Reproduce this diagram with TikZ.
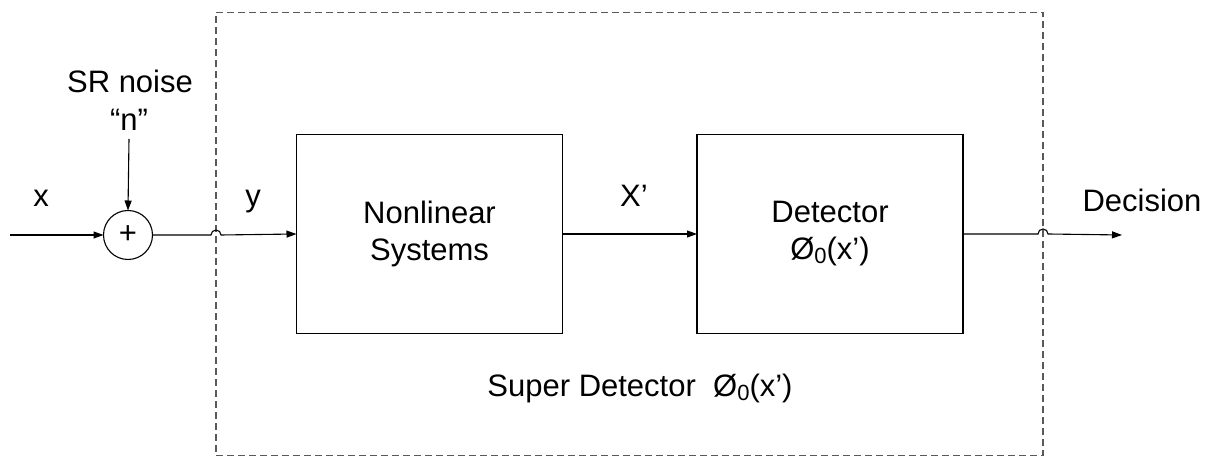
\documentclass[tikz,border=0pt]{standalone}
\usepackage{fontspec}
\setmainfont{Liberation Sans}
\usetikzlibrary{arrows.meta}
% lowered small subscript digit
\newcommand\subz[1]{\raisebox{-3.5pt}{\fontsize{22}{22}\selectfont #1}}
\begin{document}
\begin{tikzpicture}[x=1pt,y=1pt,
  every node/.style={font=\fontsize{31}{37}\selectfont, inner sep=0pt, outer sep=0pt},
  wire/.style={line width=1.1pt},
  sig/.style={wire, -{Triangle[length=10pt,width=7pt]}},
  block/.style={draw, line width=1.1pt, minimum width=266pt, minimum height=199pt, align=center},
  frame/.style={draw=black!65, line width=1.1pt, dash pattern=on 7pt off 4pt},
  adder/.style={draw, circle, line width=1.1pt, minimum size=49pt},
  lbl/.style={anchor=base}]
\useasboundingbox (0,0) rectangle (1221,457);

% dashed enclosure of the super detector
\node[frame, minimum width=827pt, minimum height=443pt] (super) at (629.5,223) {};
\node[lbl] (superlbl) at (640,60) {Super Detector\ \ Ø\subz{0}(x’)};

% processing blocks
\node[block] (nl) at (429.5,223) {Nonlinear\\Systems};
\node[block] (det) at (830,223) {Detector\\Ø\subz{0}(x’)};

% summing junction and inputs
\node[adder] (sum) at (128,222) {+};
\coordinate (in) at (10,222);
\coordinate (out) at (1122,222);
\node[lbl] (srn) at (130,364) {SR noise};
\node[lbl] (n) at (129,326) {“n”};

% signal labels
\node[lbl] (xl) at (41,250) {x};
\node[lbl] (yl) at (253,250) {y};
\node[lbl] (xp) at (634,250) {X’};
\node[lbl] (dec) at (1142,245) {Decision};

% crossing points with the dashed frame
\coordinate (h1) at (sum.east -| super.west);
\coordinate (h2) at (det.east -| super.east);

% connectors
\draw[sig] (in) -- (sum.west);
\draw[sig] ([yshift=-8pt]n.south) -- (sum.north);
\draw[sig] (sum.east) -- ([xshift=-5pt]h1) arc[start angle=180, end angle=0, radius=5pt] -- (nl.west);
\draw[sig] (nl.east) -- (nl.east -| det.west);
\draw[sig] (det.east) -- ([xshift=-5pt]h2) arc[start angle=180, end angle=0, radius=5pt] -- (out);
\end{tikzpicture}
\end{document}
